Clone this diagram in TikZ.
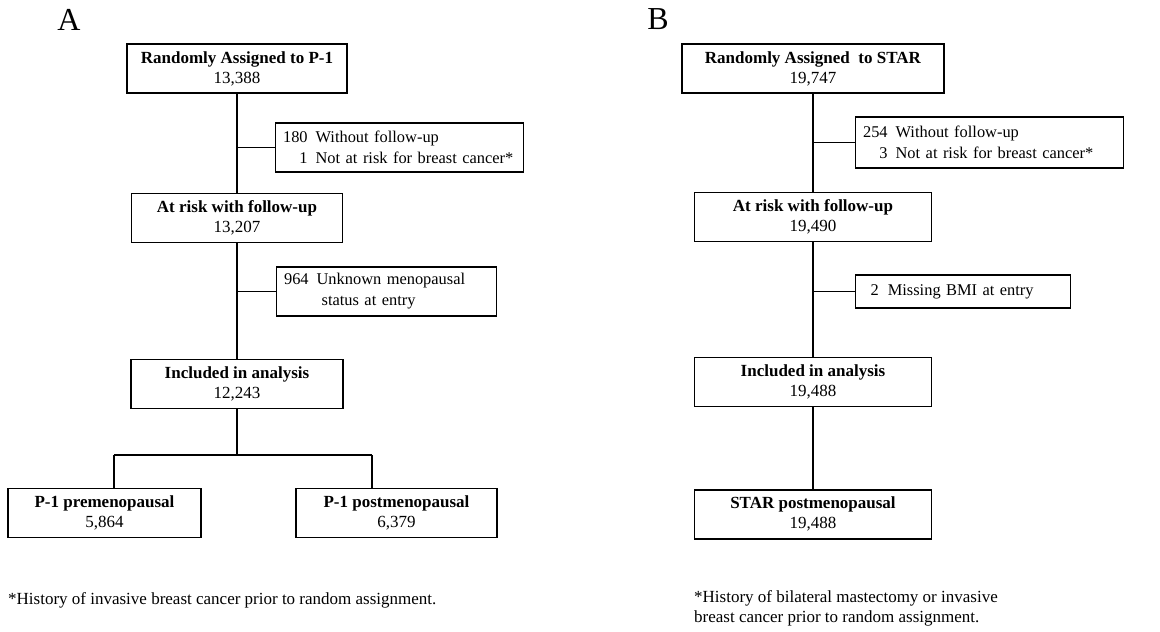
\documentclass[tikz,border=0pt]{standalone}
\usepackage{fontspec}
\setmainfont{Liberation Serif}
\usepackage{xcolor}
\usepackage{tikz}
\usetikzlibrary{positioning}
\setlength{\parindent}{0pt}
\definecolor{FlowInk}{HTML}{000000}
\tikzset{
  stagebox/.style={draw=FlowInk, line width=1.3pt, rectangle, minimum height=49pt,
                   inner sep=3pt, align=center, font=\fontsize{17}{20}\selectfont},
  exclbox/.style={draw=FlowInk, line width=1.3pt, rectangle, inner xsep=5pt,
                  inner ysep=3pt, align=left, anchor=west,
                  font=\fontsize{16.4}{21}\selectfont},
  notetext/.style={inner sep=0pt, align=left, anchor=base west,
                   font=\fontsize{17}{20}\selectfont},
  panellabel/.style={inner sep=0pt, font=\fontsize{32}{38}\selectfont},
  flowline/.style={line width=1.4pt, draw=FlowInk}
}
\newcommand{\exclcount}[1]{\hspace{2pt}\makebox[25pt][r]{#1}\hspace{8pt}}

\begin{document}
\begin{tikzpicture}[x=1pt, y=-1pt]
  \useasboundingbox (0,0) rectangle (1160,632);

  % panel A: P-1
  \node[panellabel] (labA) at (69,19.5) {A};
  \node[stagebox, minimum width=220pt] (a1) at (237,68.5) {\textbf{Randomly Assigned to P-1}\\13,388};
  \node[stagebox, minimum width=211pt, below=99pt of a1] (a2) {\textbf{At risk with follow-up}\\13,207};
  \node[stagebox, minimum width=212pt, below=116pt of a2] (a3) {\textbf{Included in analysis}\\12,243};
  \node[stagebox, minimum width=193pt] (a4pre) at (104.5,513) {\textbf{P-1 premenopausal}\\5,864};
  \node[stagebox, minimum width=201pt] (a4post) at (396.5,513) {\textbf{P-1 postmenopausal}\\6,379};
  \node[exclbox, text width=238pt, minimum height=49pt] (exA1) at (275,147.5)
    {\mbox{\exclcount{180}Without follow-up}\\\mbox{\exclcount{1}Not at risk for breast cancer*}};
  \node[exclbox, text width=210pt, minimum height=49pt] (exA2) at (276,291.5)
    {\mbox{\exclcount{964}Unknown menopausal}\\\mbox{\exclcount{}\hspace{5pt}status at entry}};
  \coordinate (splitL) at (114,455);
  \coordinate (splitR) at (372,455);

  \draw[flowline] (a1) -- (a2);
  \draw[flowline] (a2) -- (a3);
  \draw[flowline] (exA1.west) -- (exA1.west -| a1.south);
  \draw[flowline] (exA2.west) -- (exA2.west -| a2.south);
  \draw[flowline] (a3.south) -- (a3.south |- splitL);
  \draw[flowline] (splitL) -- (splitR);
  \draw[flowline] (splitL) -- (splitL |- a4pre.north);
  \draw[flowline] (splitR) -- (splitR |- a4post.north);

  \node[notetext] (noteA) at (8,604) {*History of invasive breast cancer prior to random assignment.};

  % panel B: STAR
  \node[panellabel] (labB) at (658,19.5) {B};
  \node[stagebox, minimum width=262pt] (b1) at (813,68.5) {\textbf{Randomly Assigned \ to STAR}\\19,747};
  \node[stagebox, minimum width=237pt, below=98pt of b1] (b2) {\textbf{At risk with follow-up}\\19,490};
  \node[stagebox, minimum width=237pt, below=115pt of b2] (b3) {\textbf{Included in analysis}\\19,488};
  \node[stagebox, minimum width=237pt, below=82pt of b3] (b4) {\textbf{STAR postmenopausal}\\19,488};
  \node[exclbox, text width=258pt, minimum height=51pt] (exB1) at (855,142.5)
    {\mbox{\exclcount{254}Without follow-up}\\\mbox{\exclcount{3}Not at risk for breast cancer*}};
  \node[exclbox, text width=205pt, minimum height=33pt] (exB2) at (855,291.5)
    {\hspace{10pt}2\hspace{9pt}Missing BMI at entry};

  \draw[flowline] (b1) -- (b2);
  \draw[flowline] (b2) -- (b3);
  \draw[flowline] (b3) -- (b4);
  \draw[flowline] (exB1.west) -- (exB1.west -| b1.south);
  \draw[flowline] (exB2.west) -- (exB2.west -| b2.south);

  \node[notetext] (noteB) at (694,622) {*History of bilateral mastectomy or invasive\\breast cancer prior to random assignment.};
\end{tikzpicture}
\end{document}
